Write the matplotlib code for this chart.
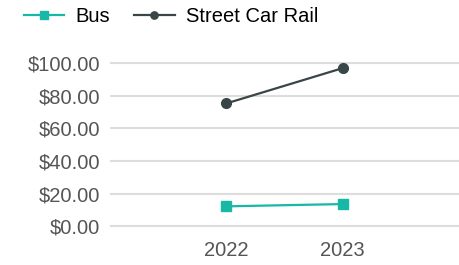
import matplotlib
matplotlib.use("Agg")
import matplotlib.pyplot as plt
from matplotlib.ticker import FuncFormatter

years = [2022, 2023]
bus = [12.3, 13.7]
rail = [75.3, 96.9]
yticks = [0, 20, 40, 60, 80, 100]

plt.rcParams['font.family'] = ['Liberation Sans', 'DejaVu Sans']

fig = plt.figure(figsize=(4.59, 2.65), dpi=100)
ax = fig.add_axes([110/459, 1 - 240/265, 349/459, 190/265])

ax.plot(years, bus, color='#17b8a6', lw=1.6, marker='s', ms=7, label='Bus', zorder=3)
ax.plot(years, rail, color='#394648', lw=1.6, marker='o', ms=7, label='Street Car Rail', zorder=3)

ax.set_xlim(2021, 2024)
ax.set_ylim(-8.3, 108)
ax.set_xticks(years)
ax.set_xticklabels([str(y) for y in years])
ax.set_yticks(yticks)
ax.yaxis.set_major_formatter(FuncFormatter(lambda v, p: f"${v:,.2f}"))
ax.grid(axis='y', color='#dddddd', lw=1.5)
ax.set_axisbelow(True)
for s in ax.spines.values():
    s.set_visible(False)
ax.tick_params(axis='both', length=0, labelsize=14.5, labelcolor='#555555')
ax.tick_params(axis='y', pad=7)
ax.tick_params(axis='x', pad=1)

leg = fig.legend(loc='upper left', bbox_to_anchor=(6/459, 1 + 11/265), ncol=2, frameon=False,
                 fontsize=14.5, handlelength=2.0, columnspacing=1.2, handletextpad=0.55,
                 markerscale=0.75)
for t in leg.get_texts():
    t.set_color('#000000')
fig.savefig('out.png', dpi=100)
